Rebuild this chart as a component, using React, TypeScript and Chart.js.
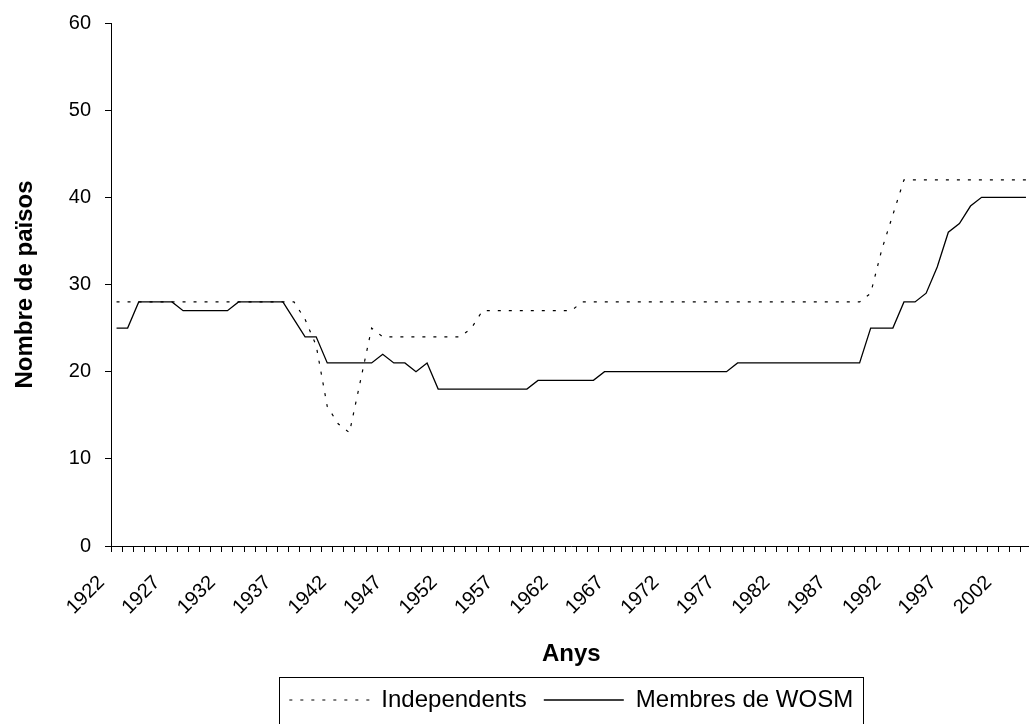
import React, { useEffect, useRef } from 'react';
import { Chart, registerables } from 'chart.js';

Chart.register(...registerables);

// Categories: one per year, 1922–2004
const years: string[] = [
  '1922', '1923', '1924', '1925', '1926', '1927', '1928', '1929', '1930', '1931',
  '1932', '1933', '1934', '1935', '1936', '1937', '1938', '1939', '1940', '1941',
  '1942', '1943', '1944', '1945', '1946', '1947', '1948', '1949', '1950', '1951',
  '1952', '1953', '1954', '1955', '1956', '1957', '1958', '1959', '1960', '1961',
  '1962', '1963', '1964', '1965', '1966', '1967', '1968', '1969', '1970', '1971',
  '1972', '1973', '1974', '1975', '1976', '1977', '1978', '1979', '1980', '1981',
  '1982', '1983', '1984', '1985', '1986', '1987', '1988', '1989', '1990', '1991',
  '1992', '1993', '1994', '1995', '1996', '1997', '1998', '1999', '2000', '2001',
  '2002', '2003', '2004',
];

// Years whose label is printed on the x axis
const labelledYears: string[] = [
  '1922', '1927', '1932', '1937', '1942', '1947', '1952', '1957', '1962', '1967',
  '1972', '1977', '1982', '1987', '1992', '1997', '2002',
];

// Independents (dotted)
const independents: number[] = [
  28, 28, 28, 28, 28, 28, 28, 28, 28, 28, // 1922-1931
  28, 28, 28, 28, 28, 28, 28, 26, 23, 16, // 1932-1941
  14, 13, 19, 25, 24, 24, 24, 24, 24, 24, // 1942-1951
  24, 24, 25, 27, 27, 27, 27, 27, 27, 27, // 1952-1961
  27, 27, 28, 28, 28, 28, 28, 28, 28, 28, // 1962-1971
  28, 28, 28, 28, 28, 28, 28, 28, 28, 28, // 1972-1981
  28, 28, 28, 28, 28, 28, 28, 28, 29, 34, // 1982-1991
  38, 42, 42, 42, 42, 42, 42, 42, 42, 42, // 1992-2001
  42, 42, 42,                             // 2002-2004
];

// Membres de WOSM (solid)
const wosmMembers: number[] = [
  25, 25, 28, 28, 28, 28, 27, 27, 27, 27, // 1922-1931
  27, 28, 28, 28, 28, 28, 26, 24, 24, 21, // 1932-1941
  21, 21, 21, 21, 22, 21, 21, 20, 21, 18, // 1942-1951
  18, 18, 18, 18, 18, 18, 18, 18, 19, 19, // 1952-1961
  19, 19, 19, 19, 20, 20, 20, 20, 20, 20, // 1962-1971
  20, 20, 20, 20, 20, 20, 21, 21, 21, 21, // 1972-1981
  21, 21, 21, 21, 21, 21, 21, 21, 25, 25, // 1982-1991
  25, 28, 28, 29, 32, 36, 37, 39, 40, 40, // 1992-2001
  40, 40, 40,                             // 2002-2004
];

const seriesNames: string[] = ['Independents', 'Membres de WOSM'];
const yAxisTitle = 'Nombre de països';
const xAxisTitle = 'Anys';

const FONT = '"Liberation Sans", Arial, sans-serif';

const legendFramePlugin = {
  id: 'legendFrame',
  afterDraw(chart: any) {
    const legend = chart.legend;
    if (!legend || !legend.legendHitBoxes || legend.legendHitBoxes.length === 0) return;
    const boxes = legend.legendHitBoxes;
    const first = boxes[0];
    const last = boxes[boxes.length - 1];
    const left = Math.round(first.left - 10) + 0.5;
    const right = Math.round(last.left + last.width + 10) + 0.5;
    const top = Math.round(first.top - 11) + 0.5;
    const bottom = top + 54;
    const ctx = chart.ctx;
    ctx.save();
    ctx.strokeStyle = '#000';
    ctx.lineWidth = 1;
    ctx.setLineDash([]);
    ctx.strokeRect(left, top, right - left, bottom - top);
    ctx.restore();
  },
};

export default function App() {
  const canvasRef = useRef<HTMLCanvasElement | null>(null);

  useEffect(() => {
    if (!canvasRef.current) return;
    const chart = new Chart(canvasRef.current, {
      type: 'line',
      data: {
        labels: years,
        datasets: [
          {
            label: seriesNames[0],
            data: independents,
            borderColor: '#000',
            borderWidth: 1.2,
            borderDash: [3, 8],
            pointRadius: 0,
            pointHoverRadius: 0,
            tension: 0,
            fill: false,
          },
          {
            label: seriesNames[1],
            data: wosmMembers,
            borderColor: '#000',
            borderWidth: 1.3,
            pointRadius: 0,
            pointHoverRadius: 0,
            tension: 0,
            fill: false,
          },
        ],
      },
      options: {
        responsive: false,
        animation: false,
        devicePixelRatio: 1,
        color: '#000',
        layout: { padding: { top: 23, left: 0, right: 8.5, bottom: 13 } },
        plugins: {
          tooltip: { enabled: false },
          legend: {
            display: true,
            position: 'bottom',
            fullSize: false,
            labels: {
              usePointStyle: true,
              pointStyle: 'line',
              pointStyleWidth: 80,
              boxHeight: 24,
              padding: 17,
              color: '#000',
              font: { family: FONT, size: 24 },
              generateLabels: (chart: any) => {
                const items = Chart.defaults.plugins.legend.labels.generateLabels(chart);
                return items.map((item: any) => {
                  const ds = chart.data.datasets[item.datasetIndex];
                  return {
                    ...item,
                    pointStyle: 'line',
                    strokeStyle: '#000',
                    lineWidth: ds.borderWidth,
                    lineDash: ds.borderDash || [],
                  };
                });
              },
            },
          },
        },
        scales: {
          x: {
            type: 'category',
            offset: true,
            grid: {
              display: true,
              drawOnChartArea: false,
              drawTicks: true,
              tickLength: 6,
              offset: true,
              color: '#000',
              lineWidth: 1,
            },
            border: { display: true, color: '#000', width: 1 },
            ticks: {
              autoSkip: false,
              maxRotation: 45,
              minRotation: 45,
              labelOffset: -15,
              padding: 19,
              color: '#000',
              font: { family: FONT, size: 20 },
              callback: (_v: any, index: number) =>
                labelledYears.includes(years[index]) ? years[index] : '',
            },
            title: {
              display: true,
              text: xAxisTitle,
              color: '#000',
              font: { family: FONT, size: 24, weight: 'bold' },
              padding: { top: 0, bottom: 2 },
            },
            afterFit: (scale: any) => {
              scale.height = 125;
              scale.paddingLeft = 0;
              scale.paddingRight = 0;
            },
          },
          y: {
            min: 0,
            max: 60,
            grid: {
              display: true,
              drawOnChartArea: false,
              drawTicks: true,
              tickLength: 6,
              color: '#000',
              lineWidth: 1,
            },
            border: { display: true, color: '#000', width: 1 },
            ticks: {
              stepSize: 10,
              padding: 14,
              color: '#000',
              font: { family: FONT, size: 20 },
            },
            title: {
              display: true,
              text: yAxisTitle,
              color: '#000',
              font: { family: FONT, size: 24, weight: 'bold' },
              padding: { top: 10.5, bottom: 0 },
            },
            afterFit: (scale: any) => {
              scale.width = 111;
              scale.paddingTop = 0;
              scale.paddingBottom = 0;
            },
          },
        },
      },
      plugins: [legendFramePlugin],
    } as any);
    return () => chart.destroy();
  }, []);

  return (
    <div
      style={{
        position: 'fixed',
        left: 0,
        top: 0,
        width: 1029,
        height: 724,
        overflow: 'hidden',
        background: '#fff',
      }}
    >
      <canvas ref={canvasRef} width={1040} height={735} style={{ display: 'block' }} />
    </div>
  );
}
